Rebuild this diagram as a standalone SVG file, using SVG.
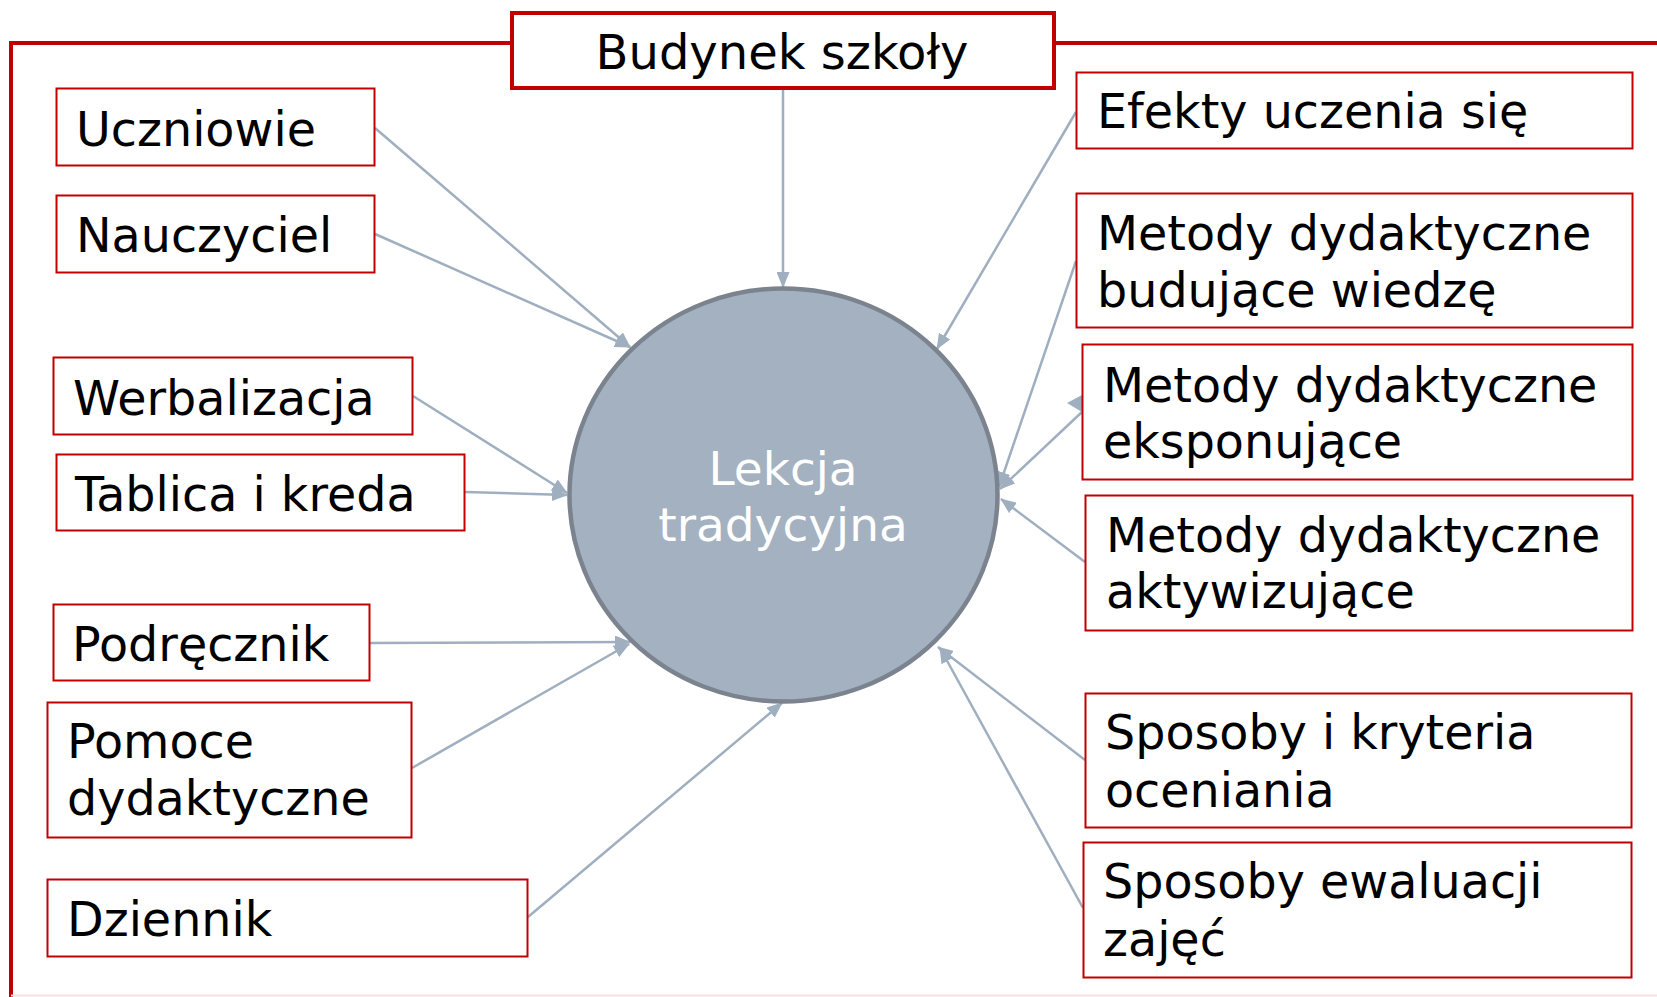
<svg xmlns="http://www.w3.org/2000/svg" width="1657" height="997" viewBox="0 0 1657 997">
<defs>
<style>
.box{fill:#ffffff;stroke:#c00000;stroke-width:2}
.t{font-family:"DejaVu Sans","Verdana",sans-serif;font-size:47.6px;fill:#000000}
.w{fill:#ffffff;font-size:47px}
.c{stroke:#a0afbf;stroke-width:2.5;fill:none;marker-end:url(#ah)}
</style>
<marker id="ah" markerUnits="userSpaceOnUse" markerWidth="16" markerHeight="13" refX="15" refY="6.5" orient="auto">
<path d="M0,0 L16,6.5 L0,13 Z" fill="#a0afbf"/>
</marker>
</defs>
<rect width="1657" height="997" fill="#ffffff"/>
<g id="frame">
<path d="M11,997 V43 H512 M1055,43 H1657" fill="none" stroke="#c00000" stroke-width="4"/>
<line x1="11" y1="995.5" x2="1657" y2="995.5" stroke="#f8e0e4" stroke-width="2"/>
</g>
<g id="connectors">
<line class="c" x1="783" y1="90" x2="783" y2="287"/>
<line class="c" x1="375" y1="128" x2="630" y2="347"/>
<line class="c" x1="375" y1="234" x2="630" y2="347"/>
<line class="c" x1="1076" y1="112" x2="937" y2="349"/>
<line class="c" x1="413" y1="396" x2="567" y2="493"/>
<line class="c" x1="465" y1="492" x2="567" y2="495"/>
<line class="c" x1="370" y1="643" x2="630" y2="642"/>
<line class="c" x1="412" y1="768" x2="629" y2="644"/>
<line class="c" x1="528" y1="917" x2="782" y2="703"/>
<line class="c" x1="1076" y1="261" x2="999" y2="487"/>
<line class="c" x1="1082" y1="412" x2="1000" y2="489"/>
<polygon points="1067,403 1082,395 1082,412" fill="#a0afbf"/>
<line class="c" x1="1085" y1="562" x2="1001" y2="499"/>
<line class="c" x1="1085" y1="760" x2="938" y2="647"/>
<line class="c" x1="1083" y1="908" x2="940" y2="648"/>
</g>
<g id="lekcja">
<ellipse cx="783.5" cy="495" rx="214" ry="206.5" fill="#a3b1c0" stroke="#7a838e" stroke-width="4.5"/>
<text class="t w" x="783" y="485" text-anchor="middle">Lekcja</text>
<text class="t w" x="783" y="541" text-anchor="middle">tradycyjna</text>
</g>
<g id="budynek">
<rect x="512" y="13" width="542" height="75" fill="#ffffff" stroke="#c00000" stroke-width="4"/>
<text class="t" x="782" y="69" text-anchor="middle" style="font-size:48px">Budynek szkoły</text>
</g>
<g id="uczniowie">
<rect class="box" x="56.5" y="88.5" width="318" height="77"/>
<text class="t" x="76" y="146">Uczniowie</text>
</g>
<g id="nauczyciel">
<rect class="box" x="56.5" y="195.5" width="318" height="77"/>
<text class="t" x="76" y="252">Nauczyciel</text>
</g>
<g id="werbalizacja">
<rect class="box" x="53.5" y="357.5" width="359" height="77"/>
<text class="t" x="73" y="415">Werbalizacja</text>
</g>
<g id="tablica">
<rect class="box" x="56.5" y="454.5" width="408" height="76"/>
<text class="t" x="75" y="511">Tablica i kreda</text>
</g>
<g id="podrecznik">
<rect class="box" x="53.5" y="604.5" width="316" height="76"/>
<text class="t" x="72" y="661">Podręcznik</text>
</g>
<g id="pomoce">
<rect class="box" x="47.5" y="702.5" width="364" height="135"/>
<text class="t" x="67" y="758">Pomoce</text>
<text class="t" x="67" y="815">dydaktyczne</text>
</g>
<g id="dziennik">
<rect class="box" x="47.5" y="879.5" width="480" height="77"/>
<text class="t" x="67" y="936">Dziennik</text>
</g>
<g id="efekty">
<rect class="box" x="1076.5" y="72.5" width="556" height="76"/>
<text class="t" x="1097" y="128">Efekty uczenia się</text>
</g>
<g id="budujace">
<rect class="box" x="1076.5" y="193.5" width="556" height="134"/>
<text class="t" x="1097" y="250">Metody dydaktyczne</text>
<text class="t" x="1097" y="307">budujące wiedzę</text>
</g>
<g id="eksponujace">
<rect class="box" x="1082.5" y="344.5" width="550" height="135"/>
<text class="t" x="1103" y="402">Metody dydaktyczne</text>
<text class="t" x="1103" y="458">eksponujące</text>
</g>
<g id="aktywizujace">
<rect class="box" x="1085.5" y="495.5" width="547" height="135"/>
<text class="t" x="1106" y="552">Metody dydaktyczne</text>
<text class="t" x="1106" y="608">aktywizujące</text>
</g>
<g id="kryteria">
<rect class="box" x="1085.5" y="693.5" width="546" height="134"/>
<text class="t" x="1105" y="749">Sposoby i kryteria</text>
<text class="t" x="1105" y="807">oceniania</text>
</g>
<g id="ewaluacja">
<rect class="box" x="1083.5" y="842.5" width="548" height="135"/>
<text class="t" x="1103" y="898">Sposoby ewaluacji</text>
<text class="t" x="1103" y="956">zajęć</text>
</g>
</svg>
